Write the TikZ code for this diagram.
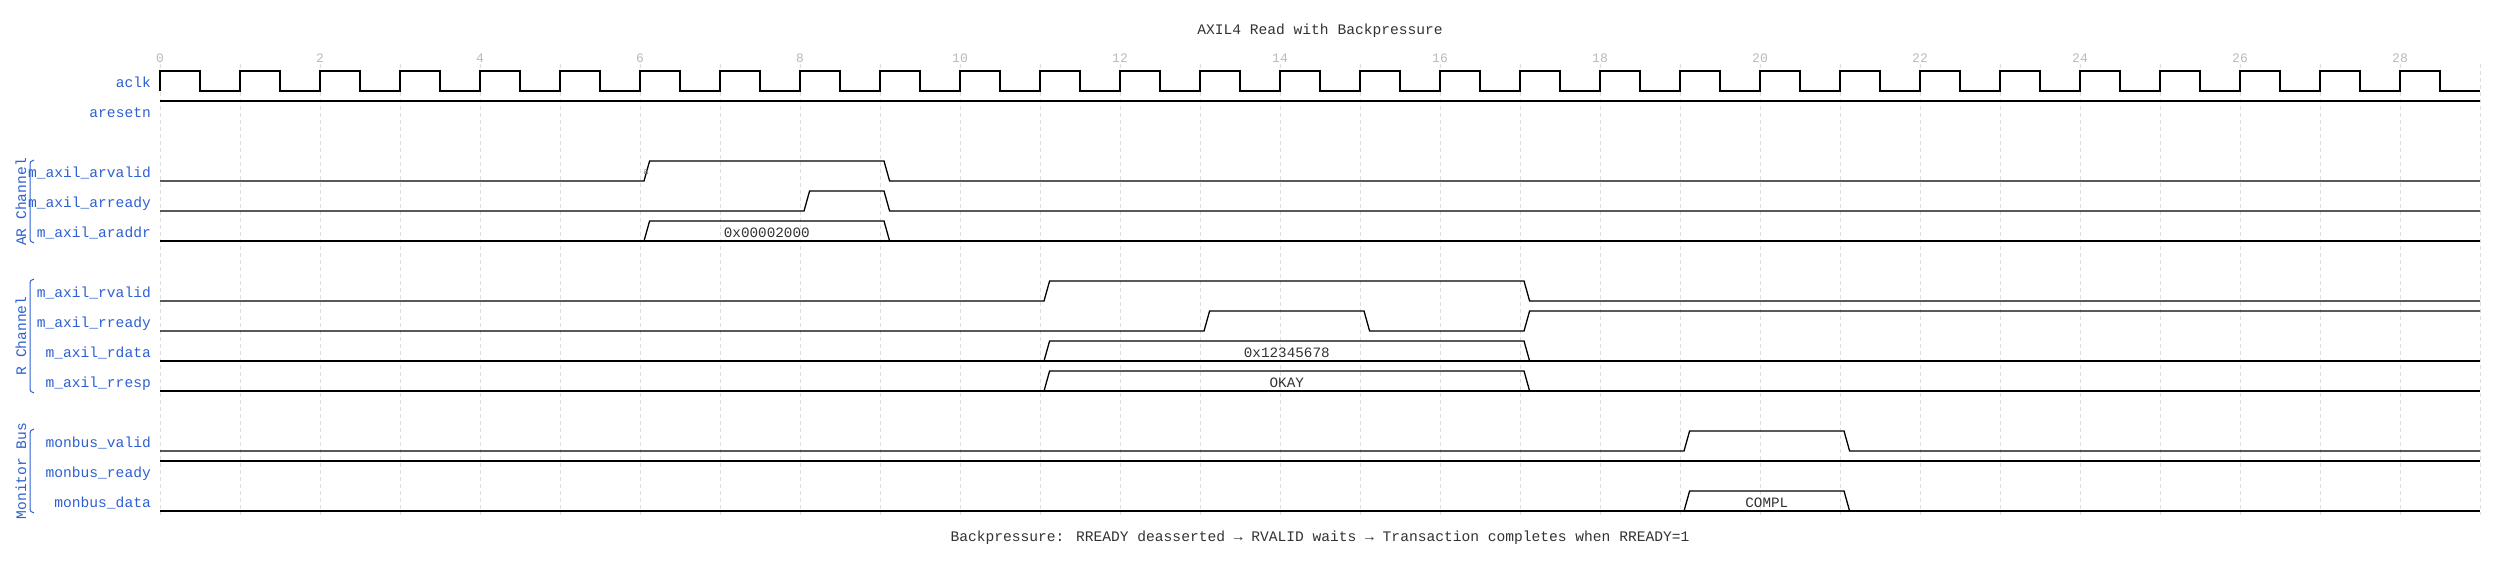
\documentclass[tikz,border=0pt]{standalone}
\usepackage{fontspec}
\newfontfamily\lmono{Liberation Mono}
\definecolor{lblue}{RGB}{45,95,210}
\definecolor{gridc}{RGB}{222,222,222}
\definecolor{tickc}{RGB}{185,185,185}
\definecolor{txtc}{RGB}{50,50,50}
\begin{document}
\begin{tikzpicture}[x=1pt,y=-1pt,
  sig/.style={line width=1.3pt, black, line join=miter},
  gridline/.style={dash pattern=on 4pt off 3pt, line width=0.8pt, gridc},
  lbl/.style={anchor=base east, text=lblue, font=\lmono\fontsize{14.6}{16}\selectfont, inner sep=0pt},
  grp/.style={text=lblue, font=\lmono\fontsize{14.6}{16}\selectfont, inner sep=0pt, rotate=90},
  brace/.style={lblue, line width=1pt},
  ticklbl/.style={anchor=base, text=tickc, font=\lmono\fontsize{13}{14}\selectfont, inner sep=0pt},
  datalbl/.style={anchor=base, text=txtc, font=\lmono\fontsize{14.3}{16}\selectfont, inner sep=0pt},
  titletxt/.style={anchor=base, text=txtc, font=\lmono\fontsize{14.6}{16}\selectfont, inner sep=0pt}]
\useasboundingbox (0,0) rectangle (2500,562);

% title and footer
\node[titletxt] (title) at (1320,34) {AXIL4 Read with Backpressure};
\node[titletxt] (footer) at (1320,541) {Backpressure: RREADY deasserted → RVALID waits → Transaction completes when RREADY=1};

\begin{scope}[shift={(160,0)}, x=80pt]
  % grid
  \foreach \i in {0,...,29} \draw[gridline] (\i,64) -- (\i,515);
  % ticks
  \foreach \i in {0,2,...,28} \node[ticklbl] (t\i) at (\i,62) {\i};
  % aclk
  \draw[sig] (0,91) \foreach \i in {0,...,28} { -- (\i,71) -- (\i+0.5,71) -- (\i+0.5,91) -- (\i+1,91) };
  % aresetn
  \draw[sig] (0,101) -- (29,101);
  % arvalid
  \draw[sig] (0,181) -- (6.05,181) -- (6.12,161) -- (9.05,161) -- (9.12,181) -- (29,181);
  % arready
  \draw[sig] (0,211) -- (8.05,211) -- (8.12,191) -- (9.05,191) -- (9.12,211) -- (29,211);
  % araddr
  \draw[sig] (0,241) -- (29,241);
  \draw[sig] (6.05,241) -- (6.12,221) -- (9.05,221) -- (9.12,241);
  \node[datalbl] (d1) at (7.585,237) {0x00002000};
  % rvalid
  \draw[sig] (0,301) -- (11.05,301) -- (11.12,281) -- (17.05,281) -- (17.12,301) -- (29,301);
  % rready
  \draw[sig] (0,331) -- (13.05,331) -- (13.12,311) -- (15.05,311) -- (15.12,331) -- (17.05,331) -- (17.12,311) -- (29,311);
  % rdata
  \draw[sig] (0,361) -- (29,361);
  \draw[sig] (11.05,361) -- (11.12,341) -- (17.05,341) -- (17.12,361);
  \node[datalbl] (d2) at (14.085,357) {0x12345678};
  % rresp
  \draw[sig] (0,391) -- (29,391);
  \draw[sig] (11.05,391) -- (11.12,371) -- (17.05,371) -- (17.12,391);
  \node[datalbl] (d3) at (14.085,387) {OKAY};
  % monbus_valid
  \draw[sig] (0,451) -- (19.05,451) -- (19.12,431) -- (21.05,431) -- (21.12,451) -- (29,451);
  % monbus_ready
  \draw[sig] (0,461) -- (29,461);
  % monbus_data
  \draw[sig] (0,511) -- (29,511);
  \draw[sig] (19.05,511) -- (19.12,491) -- (21.05,491) -- (21.12,511);
  \node[datalbl] (d4) at (20.085,507) {COMPL};
\end{scope}

% node marker
\node[inner sep=0pt, text=gray, font=\lmono\fontsize{9}{9}\selectfont] (na) at (646,172) {a};

% signal labels
\node[lbl] (l0) at (151,87) {aclk};
\node[lbl] (l1) at (151,117) {aresetn};
\node[lbl] (l3) at (151,177) {m\_axil\_arvalid};
\node[lbl] (l4) at (151,207) {m\_axil\_arready};
\node[lbl] (l5) at (151,237) {m\_axil\_araddr};
\node[lbl] (l7) at (151,297) {m\_axil\_rvalid};
\node[lbl] (l8) at (151,327) {m\_axil\_rready};
\node[lbl] (l9) at (151,357) {m\_axil\_rdata};
\node[lbl] (l10) at (151,387) {m\_axil\_rresp};
\node[lbl] (l12) at (151,447) {monbus\_valid};
\node[lbl] (l13) at (151,477) {monbus\_ready};
\node[lbl] (l14) at (151,507) {monbus\_data};

% groups
\node[grp] (gAR) at (21,202) {AR Channel};
\node[grp] (gR) at (21,336) {R Channel};
\node[grp] (gM) at (21,471) {Monitor Bus};
\draw[brace] (34,160) .. controls (31,160) and (30,162) .. (30,166) -- (30,237) .. controls (30,241) and (31,243) .. (34,243);
\draw[brace] (34,279) .. controls (31,279) and (30,281) .. (30,285) -- (30,387) .. controls (30,391) and (31,393) .. (34,393);
\draw[brace] (34,429) .. controls (31,429) and (30,431) .. (30,435) -- (30,507) .. controls (30,511) and (31,513) .. (34,513);
\end{tikzpicture}
\end{document}
